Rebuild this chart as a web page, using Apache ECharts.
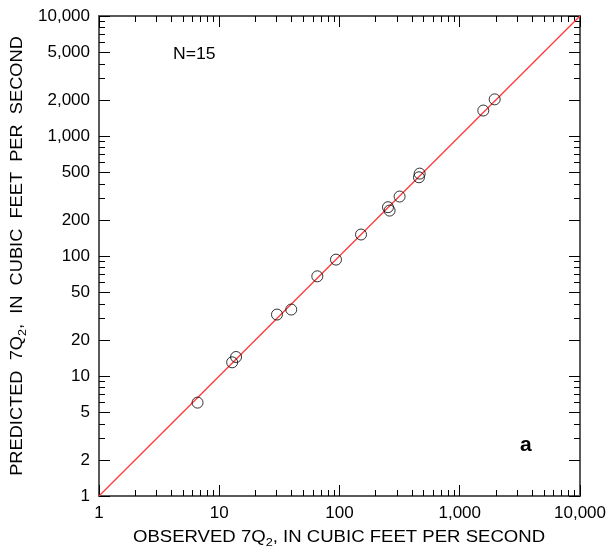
<!DOCTYPE html>
<html>
<head>
<meta charset="utf-8">
<script src="https://cdn.jsdelivr.net/npm/echarts@6/dist/echarts.min.js"></script>
<style>
  html, body { margin: 0; padding: 0; background: #fff; }
  #chart { width: 610px; height: 554px; }
</style>
</head>
<body>
<div id="chart"></div>
<script>
// observed vs predicted 7Q2, cubic feet per second
var observed = [6.6, 12.8, 13.8, 30.2, 39.7, 65.4, 93.5, 151, 253, 261, 316, 464, 458, 1570, 1952];
var predicted = [6.0, 13.0, 14.4, 32.5, 35.8, 67.7, 93.3, 151, 255, 239, 313, 486, 453, 1630, 2020];
var xLabelValues = [1, 10, 100, 1000, 10000];
var yLabelValues = [1, 2, 5, 10, 20, 50, 100, 200, 500, 1000, 2000, 5000, 10000];
var minorTickValues = [2, 3, 4, 5, 6, 7, 8, 9, 20, 30, 40, 50, 60, 70, 80, 90, 200, 300, 400, 500, 600, 700, 800, 900, 2000, 3000, 4000, 5000, 6000, 7000, 8000, 9000];
var lineOfEquality = [[1, 1], [10000, 10000]];

var font = 'Liberation Sans, Arial, sans-serif';
var frameColor = '#5a5a5a';

function fmt(v) {
    return Number(v).toLocaleString('en-US');
}

var scatterData = observed.map(function (o, i) { return [o, predicted[i]]; });
var yMinor = minorTickValues.filter(function (v) { return yLabelValues.indexOf(v) < 0; });

function baseAxis(pos) {
    return {
        type: 'log',
        logBase: 10,
        min: 1,
        max: 10000,
        position: pos,
        splitLine: { show: false },
        axisLine: { show: true, onZero: false, lineStyle: { color: frameColor, width: 2 } },
        axisTick: { show: true, inside: true, length: 11, lineStyle: { color: '#000', width: 1 } },
        axisLabel: { show: false }
    };
}

var chart = echarts.init(document.getElementById('chart'));

var labelStyle = { show: true, color: '#000', fontSize: 17, fontFamily: font, margin: 9, formatter: fmt };

var xMain = baseAxis('bottom');
xMain.axisLabel = Object.assign({ customValues: xLabelValues }, labelStyle);
xMain.axisTick.customValues = xLabelValues;
var xMinor = baseAxis('bottom');
xMinor.axisLine.show = false;
xMinor.axisTick.length = 6;
xMinor.axisTick.customValues = minorTickValues;
var xTop = baseAxis('top');
xTop.axisTick.customValues = xLabelValues;
var xTopMinor = baseAxis('top');
xTopMinor.axisLine.show = false;
xTopMinor.axisTick.length = 6;
xTopMinor.axisTick.customValues = minorTickValues;

var yMain = baseAxis('left');
yMain.axisLabel = Object.assign({ customValues: yLabelValues }, labelStyle);
yMain.axisTick.customValues = yLabelValues;
var yMinorAxis = baseAxis('left');
yMinorAxis.axisLine.show = false;
yMinorAxis.axisTick.length = 6;
yMinorAxis.axisTick.customValues = yMinor;
var yRight = baseAxis('right');
yRight.axisTick.customValues = yLabelValues;
var yRightMinor = baseAxis('right');
yRightMinor.axisLine.show = false;
yRightMinor.axisTick.length = 6;
yRightMinor.axisTick.customValues = yMinor;

var titleRich = {
    a: { fontSize: 16, fontFamily: font, fill: '#000' },
    s: { fontSize: 11, fontFamily: font, fill: '#000', padding: [9, 0, 0, 0] }
};

var option = {
    animation: false,
    backgroundColor: '#fff',
    grid: { left: 99, right: 30, top: 16, bottom: 58 },
    xAxis: [xMain, xMinor, xTop, xTopMinor],
    yAxis: [yMain, yMinorAxis, yRight, yRightMinor],
    graphic: [
        {
            type: 'text', x: 339, y: 538, scaleX: 1.16, originX: 0, originY: 0,
            style: { text: '{a|OBSERVED 7Q}{s|2}{a|, IN CUBIC FEET PER SECOND}', rich: titleRich, align: 'center', verticalAlign: 'middle' }
        },
        {
            type: 'text', x: 18, y: 256, rotation: Math.PI / 2, scaleX: 1.14, originX: 0, originY: 0,
            style: { text: '{a|PREDICTED  7Q}{s|2}{a|,  IN  CUBIC  FEET  PER  SECOND}', rich: titleRich, align: 'center', verticalAlign: 'middle' }
        },
        { type: 'text', left: 173, top: 47, scaleX: 1.1, style: { text: 'N=15', font: '16px ' + font, fill: '#000' } },
        { type: 'text', left: 520, top: 435, style: { text: 'a', font: 'bold 21px ' + font, fill: '#000' } }
    ],
    series: [
        {
            type: 'line',
            data: lineOfEquality,
            showSymbol: false,
            silent: true,
            lineStyle: { color: '#ff3a3a', width: 1.3 },
            z: 2
        },
        {
            type: 'scatter',
            data: scatterData,
            symbol: 'circle',
            symbolSize: 11,
            silent: true,
            itemStyle: { color: 'none', borderColor: '#000', borderWidth: 1 },
            z: 3
        }
    ]
};
chart.setOption(option);
</script>
</body>
</html>
